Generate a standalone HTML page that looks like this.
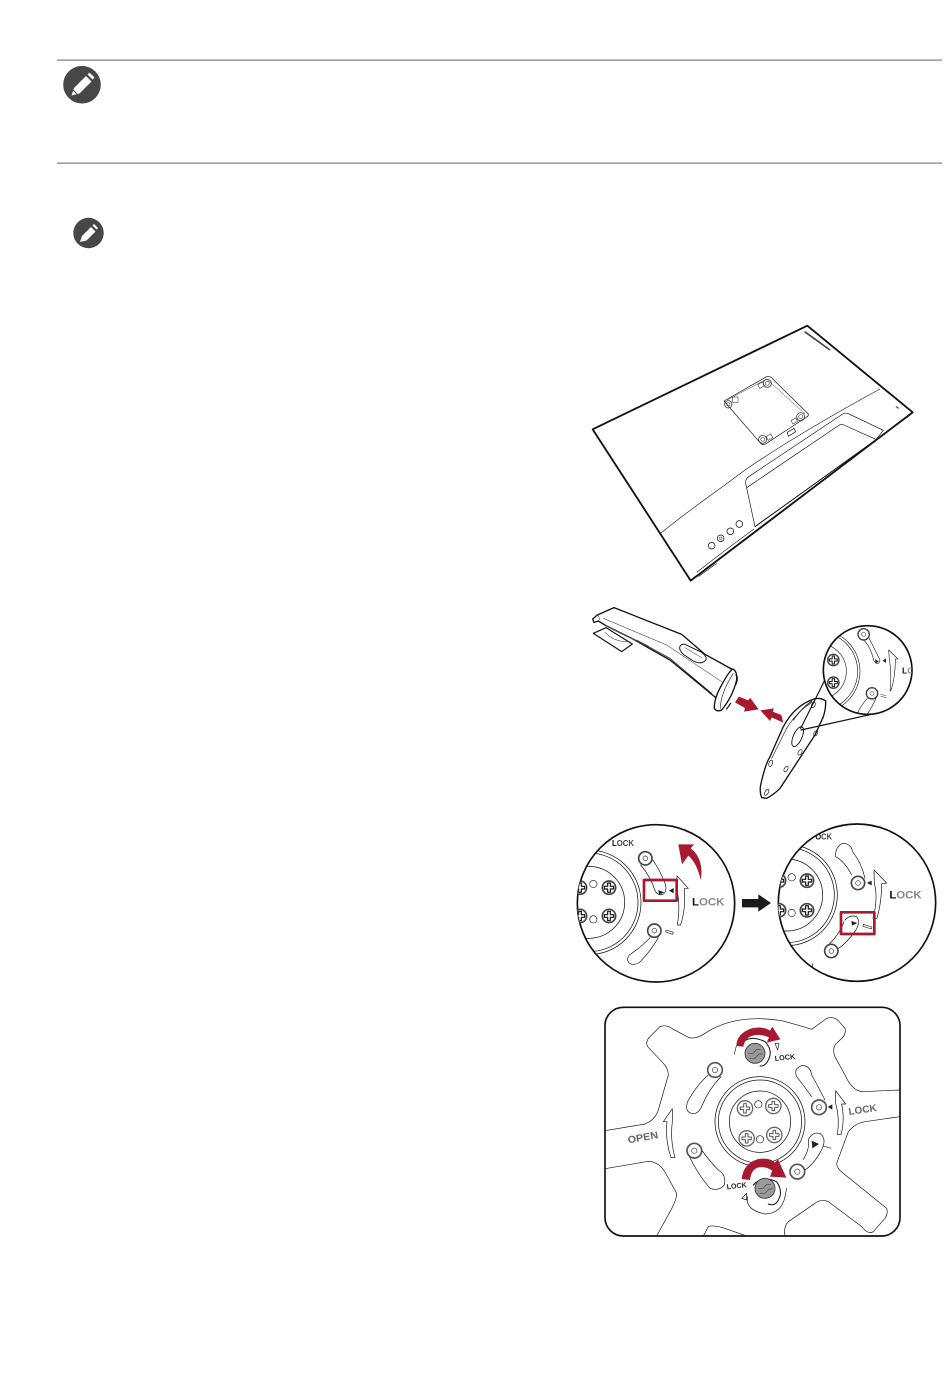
<!DOCTYPE html>
<html><head><meta charset="utf-8"><style>
html,body{margin:0;padding:0;background:#fff;width:950px;height:1379px;overflow:hidden}
svg{display:block}
text{font-family:"Liberation Sans",sans-serif;font-weight:bold}
</style></head><body>
<svg width="950" height="1379" viewBox="0 0 950 1379" xmlns="http://www.w3.org/2000/svg">
<defs>
<g id="sc"><circle r="20" fill="#fff" stroke="#444" stroke-width="5"/><path d="M-4,-14H4V-4H14V4H4V14H-4V4H-14V-4H-4Z" fill="#fff" stroke="#111" stroke-width="3.5"/></g>
<g id="pin"><circle r="20" fill="#fff" stroke="#444" stroke-width="5"/><circle r="7" fill="#fff" stroke="#333" stroke-width="2"/></g>
<g id="sc4"><circle r="23" fill="#fff" stroke="#666" stroke-width="4"/><path d="M-4,-14H4V-4H14V4H4V14H-4V4H-14V-4H-4Z" fill="#fff" stroke="#555" stroke-width="3"/></g>
<g id="pin4"><circle r="22" fill="#fff" stroke="#555" stroke-width="5"/><circle r="8" fill="#fff" stroke="#444" stroke-width="2"/></g>
<clipPath id="c2"><circle cx="893" cy="225" r="133"/></clipPath>
<clipPath id="c3a"><circle cx="258" cy="265" r="236"/></clipPath>
<clipPath id="c3b"><circle cx="861" cy="263" r="236"/></clipPath>
<clipPath id="c4"><rect x="30" y="22" width="885" height="686" rx="55"/></clipPath>
</defs>

<rect x="57" y="59.5" width="885" height="1.3" fill="#888"/>
<rect x="57" y="162.5" width="885" height="1.3" fill="#888"/>
<circle cx="82" cy="84.7" r="18.8" fill="#474747"/>
<path d="M71.5,95.5 L74,88 L86,76 L91.5,81.5 L79.5,93.5 Z" fill="#fff"/>
<path d="M87.5,74.5 L89.5,72.5 L94.5,77.5 L92.5,79.5Z" fill="#fff"/>
<path d="M73,90 L77,94" stroke="#474747" stroke-width="1" fill="none"/>
<circle cx="88.5" cy="233" r="15.2" fill="#474747"/>
<path d="M80,242 L82,236 L91,227 L95.5,231.5 L86.5,240.5 Z" fill="#fff"/>
<path d="M92.5,225.5 L94,224 L98,228 L96.5,229.5Z" fill="#fff"/>

<!-- Monitor -->
<g transform="translate(570,315) scale(.33333)" fill="none" stroke="#111" stroke-linejoin="round">
<path d="M712,32 L1028,292 L362,797 L68,343 Z" stroke-width="5.5" fill="#fff"/>
<path d="M704,50 L780,105" stroke-width="5" stroke="#444"/>
<path d="M272,655 C350,590 440,530 525,465 C620,400 750,320 930,222" stroke-width="1.8"/>
<path d="M555,635 L527,505 Q526,492 536,485 L818,297 Q826,292 835,296 L940,346 L917,375" stroke-width="2"/>
<path d="M530,518 L808,330 Q815,325 822,330 L917,373" stroke-width="2"/>
<path d="M917,375 L1020,300 M555,635 L917,375" stroke-width="3"/>
<path d="M380,772 C440,725 500,680 552,642 M385,785 L440,745" stroke-width="1.8"/>
<path d="M462,258 L590,185 Q598,182 604,188 L715,297 Q716,303 710,306 L585,388 Q578,391 572,385 Z" stroke-width="2" fill="#fff"/>
<path d="M472,255 L590,192 L705,297" stroke-width="1.2"/>
<circle cx="592" cy="205" r="12" stroke-width="2"/><circle cx="592" cy="205" r="6" stroke-width="1.5"/>
<circle cx="692" cy="305" r="12" stroke-width="2"/><circle cx="692" cy="305" r="6" stroke-width="1.5"/>
<circle cx="578" cy="373" r="12" stroke-width="2"/><circle cx="578" cy="373" r="6" stroke-width="1.5"/>
<circle cx="475" cy="268" r="11" stroke-width="2"/><circle cx="475" cy="268" r="5" stroke-width="1.5"/>
<rect x="565" y="204" width="16" height="13" transform="rotate(-30 573 210)" stroke-width="1.5"/>
<rect x="488" y="246" width="16" height="16" stroke-width="1.5"/>
<rect x="590" y="360" width="16" height="13" transform="rotate(-30 598 366)" stroke-width="1.5"/>
<rect x="665" y="312" width="16" height="12" transform="rotate(-30 673 318)" stroke-width="1.5"/>
<path d="M652,352 L672,340 L677,350 L655,364 Z" stroke-width="2"/>
<path d="M978,275 L986,280" stroke-width="4" stroke="#555"/>
<circle cx="425" cy="692" r="10" stroke-width="2.2"/>
<circle cx="452" cy="670" r="10" stroke-width="2.2"/><circle cx="452" cy="670" r="4" stroke-width="1.5"/>
<circle cx="481" cy="649" r="10" stroke-width="2.2"/>
<circle cx="508" cy="627" r="10" stroke-width="2.2"/>
</g>

<!-- Stand -->
<g transform="translate(570,595) scale(.33333)" fill="none" stroke="#111" stroke-linejoin="round" stroke-linecap="round">
<path d="M70,115 L108,98 L187,147 L155,170 Z" stroke-width="3.5" fill="#fff"/>
<path d="M105,112 Q130,140 170,140" stroke-width="1.5"/>
<path d="M68,72 L82,60 L132,38 L335,118 L405,178 L490,225 L440,310 L300,195 L185,130 L108,92 L85,78 L72,82 Z" stroke-width="4" fill="#fff"/>
<path d="M85,62 L90,75 M100,70 L290,150 L470,270" stroke-width="1.5"/>
<path d="M108,92 L235,155" stroke-width="4" stroke="#444" stroke-dasharray="4 2"/>
<path d="M200,135 L300,190 L425,295" stroke-width="2"/>
<path d="M345,148 L395,172 Q418,190 402,200 Q388,208 370,198 L340,178 Q322,160 333,150 Q338,146 345,148 Z" stroke-width="2.8" fill="#fff"/>
<path d="M345,158 L395,188" stroke-width="1.4"/>
<path d="M488,222 Q502,228 500,255 Q488,305 455,345 Q440,352 433,340 Q432,310 455,270 Q475,232 488,222 Z" stroke-width="4" fill="#fff"/>
<path d="M490,235 Q470,265 458,300 Q450,325 452,340" stroke-width="1.8"/>
<path d="M498,240 Q506,248 498,268 M470,342 L482,325" stroke-width="3.5"/>
<path d="M495,322 L507,305 L535,316 L540,308 L566,343 L522,350 L525,339 Z" fill="#a6192e" stroke="none"/>
<path d="M640,383 L634,360 L608,350 L612,340 L571,346 L600,378 L605,367 Z" fill="#a6192e" stroke="none"/>
<path d="M735,311 Q755,308 767,318 Q768,340 760,365 L735,420 L630,580 Q610,600 590,610 L575,608 Q568,590 572,570 Q585,510 600,485 L640,395 Q675,330 735,311 Z" stroke-width="4" fill="#fff"/>
<path d="M730,320 Q680,350 650,400 L605,490" stroke-width="1.8"/>
<path d="M725,318 Q690,345 670,375" stroke-width="3.5" stroke="#444"/>
<ellipse cx="683" cy="425" rx="13" ry="32" transform="rotate(24 683 425)" stroke-width="2.8" fill="#fff"/>
<ellipse cx="730" cy="330" rx="5" ry="9" transform="rotate(30 730 330)" stroke-width="2"/>
<ellipse cx="737" cy="415" rx="5" ry="9" transform="rotate(30 737 415)" stroke-width="2"/>
<ellipse cx="690" cy="472" rx="5" ry="9" transform="rotate(30 690 472)" stroke-width="2"/>
<ellipse cx="648" cy="522" rx="5" ry="9" transform="rotate(30 648 522)" stroke-width="2"/>
<ellipse cx="602" cy="505" rx="5" ry="10" transform="rotate(20 602 505)" stroke-width="2"/>
<ellipse cx="590" cy="592" rx="5" ry="10" transform="rotate(30 590 592)" stroke-width="2"/>
<path d="M692,400 L772,240 M693,405 L905,358" stroke-width="3.5"/>
<circle cx="893" cy="225" r="133" stroke-width="5" fill="#fff"/>
<g clip-path="url(#c2)">
<circle cx="745" cy="229" r="125" stroke-width="1.8"/>
<circle cx="745" cy="229" r="118" stroke-width="1.8"/>
<circle cx="745" cy="229" r="84" stroke-width="1.8"/>
<use href="#sc" transform="translate(790,195) scale(.85)"/>
<use href="#sc" transform="translate(790,263) scale(.85)"/>
<path d="M880,135 Q900,150 912,198 Q925,215 930,195 L895,125" stroke-width="1.8" fill="#fff"/>
<use href="#pin" transform="translate(881,118) scale(.85)"/>
<use href="#pin" transform="translate(906,295) scale(.85)"/>
<path d="M892,310 Q870,335 860,360 M920,305 Q905,340 890,360" stroke-width="1.8"/>
<path d="M916,192 L926,200 L916,206Z M948,190 V204 L938,197Z" fill="#222" stroke="none"/>
<path d="M932,298 L948,302 M932,304 L948,308" stroke-width="1.4"/>
<path d="M956,165 L984,192 L976,192 Q976,250 962,288 L960,288 Q966,240 958,192 Z" stroke-width="1.8" fill="#fff"/>
<text x="996" y="235" font-size="26" fill="#111" stroke="none">L<tspan fill="#888">O</tspan></text>
</g>
</g>

<!-- Two lock circles -->
<g transform="translate(570,815) scale(.33333)" fill="none" stroke="#111" stroke-linejoin="round" stroke-linecap="round">
<circle cx="258" cy="265" r="236" stroke-width="5" fill="#fff"/>
<g clip-path="url(#c3a)">
<circle cx="56" cy="262" r="157" stroke-width="2.2"/>
<circle cx="56" cy="262" r="148" stroke-width="2.2"/>
<circle cx="56" cy="262" r="108" stroke-width="2.2"/>
<use href="#sc" transform="translate(117,218)"/>
<use href="#sc" transform="translate(117,303)"/>
<use href="#sc" transform="translate(30,218)"/>
<use href="#sc" transform="translate(30,303)"/>
<circle cx="70" cy="207" r="11" stroke-width="1.8"/>
<circle cx="70" cy="313" r="11" stroke-width="1.8"/>
<path d="M212,150 Q245,190 255,228 Q268,246 282,236 Q292,224 285,205 Q270,165 245,130" stroke-width="2" fill="#fff"/>
<use href="#pin" transform="translate(226,130)"/>
<path d="M240,368 Q215,395 178,420 Q165,440 185,448 Q205,450 215,435 Q240,410 265,368" stroke-width="2" fill="#fff"/>
<use href="#pin" transform="translate(253,347)"/>
<path d="M265,225 L283,233 L267,239Z M311,219 V235 L297,227Z" fill="#222" stroke="none"/>
<path d="M288,345 L310,352 L308,358 L287,351Z" stroke-width="1.8"/>
<path d="M321,183 L355,220 L343,221 Q348,280 332,330 L322,330 Q332,270 320,222 Z" stroke-width="2" fill="#fff"/>
<text x="366" y="272" font-size="32" fill="#111" stroke="none" textLength="97" lengthAdjust="spacingAndGlyphs">L<tspan fill="#888">OCK</tspan></text>
<text x="126" y="93" font-size="25" fill="#111" stroke="none" textLength="66" lengthAdjust="spacingAndGlyphs">L<tspan fill="#444">OCK</tspan></text>
</g>
<rect x="222" y="195" width="98" height="62" stroke="#a6192e" stroke-width="8"/>
<path d="M392,195 C385,160 370,135 355,122 L336,148 L325,88 L372,88 L362,100 C390,120 400,160 392,195 Z" fill="#a6192e" stroke="none"/>
<path d="M516,252 H565 V238 L603,264 L565,290 V277 H516 Z" fill="#1a1a1a" stroke="none"/>
<circle cx="861" cy="263" r="236" stroke-width="5" fill="#fff"/>
<g clip-path="url(#c3b)">
<circle cx="650" cy="240" r="152" stroke-width="2.2"/>
<circle cx="650" cy="240" r="143" stroke-width="2.2"/>
<circle cx="650" cy="240" r="108" stroke-width="2.2"/>
<use href="#sc" transform="translate(711,197)"/>
<use href="#sc" transform="translate(711,286)"/>
<use href="#sc" transform="translate(627,197)"/>
<use href="#sc" transform="translate(627,286)"/>
<circle cx="665" cy="187" r="11" stroke-width="1.8"/>
<circle cx="665" cy="294" r="11" stroke-width="1.8"/>
<path d="M845,180 Q825,140 797,125 Q795,95 818,85 Q842,85 848,110 Q875,145 885,190" stroke-width="2"/>
<use href="#pin" transform="translate(864,204)"/>
<path d="M825,315 Q840,298 860,305 Q872,320 858,345 Q830,385 803,402 M822,320 Q808,360 770,395" stroke-width="2"/>
<use href="#pin" transform="translate(784,408)"/>
<path d="M844,318 L862,324 L846,332Z M905,197 V211 L891,204Z" fill="#222" stroke="none"/>
<path d="M880,328 L906,336 L904,342 L879,334Z" stroke-width="1.8"/>
<path d="M912,165 L950,204 L935,206 Q935,260 921,310 L909,310 Q925,250 913,205 Z" stroke-width="2" fill="#fff"/>
<text x="958" y="251" font-size="32" fill="#111" stroke="none" textLength="97" lengthAdjust="spacingAndGlyphs">L<tspan fill="#888">OCK</tspan></text>
<text x="736" y="73" font-size="25" fill="#444" stroke="none" textLength="50" lengthAdjust="spacingAndGlyphs"><tspan fill="#111">O</tspan>CK</text>
<path d="M727,445 V458" stroke-width="2"/>
</g>
<rect x="813" y="292" width="100" height="65" stroke="#a6192e" stroke-width="8"/>
</g>

<!-- Bottom panel -->
<g transform="translate(595,1000) scale(.33333)" fill="none" stroke="#111" stroke-linejoin="round" stroke-linecap="round">
<rect x="30" y="22" width="885" height="686" rx="55" stroke-width="5" fill="#fff"/>
<g clip-path="url(#c4)">
<path d="M30,392 L150,372 Q180,360 190,330 L220,225 Q220,205 205,190 L158,140 Q150,125 165,110 L195,80 Q215,72 235,88 L280,112 Q300,120 330,100 Q420,40 560,62 Q610,75 650,88 L695,55 Q715,48 730,62 L750,85 Q755,105 735,120 L720,135 Q712,150 720,170 L750,225 Q770,270 800,275 L915,270" stroke-width="2"/>
<path d="M30,506 L160,484 Q195,485 215,525 L245,580 Q245,600 225,635 L185,708" stroke-width="2"/>
<path d="M915,350 L810,365 Q780,370 760,395 L725,490 Q725,505 745,520 L875,625 Q880,640 870,655 L835,695 Q820,705 800,680 L700,605 Q680,595 660,610 L580,665 Q565,680 570,708" stroke-width="2"/>
<path d="M325,708 L340,680 Q350,675 380,682 L455,708" stroke-width="2"/>
<circle cx="495" cy="365" r="135" stroke-width="2.2"/>
<circle cx="495" cy="365" r="125" stroke-width="2.2"/>
<circle cx="495" cy="365" r="92" stroke-width="2.2"/>
<use href="#sc4" transform="translate(450,325)"/>
<use href="#sc4" transform="translate(535,318)"/>
<use href="#sc4" transform="translate(455,415)"/>
<use href="#sc4" transform="translate(538,405)"/>
<circle cx="490" cy="313" r="11" stroke-width="1.8"/>
<circle cx="495" cy="418" r="11" stroke-width="1.8"/>
<path d="M340,225 Q305,255 278,305 Q268,335 290,340 Q310,345 322,315 Q340,270 378,230" stroke-width="2" fill="#fff"/>
<use href="#pin4" transform="translate(360,210)"/>
<path d="M283,470 Q310,525 345,565 Q370,575 388,555 Q395,525 370,510 Q345,485 320,450" stroke-width="2" fill="#fff"/>
<use href="#pin4" transform="translate(298,452)"/>
<path d="M650,290 Q625,255 605,230 Q595,205 620,197 Q645,195 650,225 Q670,260 690,300" stroke-width="2" fill="#fff"/>
<use href="#pin4" transform="translate(672,322)"/>
<path d="M625,478 Q645,445 640,420 Q650,395 675,400 Q695,415 682,445 Q660,490 630,510" stroke-width="2" fill="#fff"/>
<use href="#pin4" transform="translate(607,515)"/>
<path d="M650,422 L672,432 L652,445Z M712,313 V329 L698,321Z" fill="#222" stroke="none"/>
<path d="M685,438 L708,445" stroke-width="1.8"/>
<path d="M722,272 L752,312 L740,312 Q750,360 738,404 L727,404 Q735,355 722,310 Z" stroke-width="2" fill="#fff"/>
<path d="M232,326 L205,365 L216,365 Q210,420 228,473 L240,473 Q225,420 232,365 Z" stroke-width="2" fill="#fff"/>
<text x="762" y="345" font-size="30" fill="#666" stroke="none" textLength="85" lengthAdjust="spacingAndGlyphs" transform="rotate(-8 762 345)">LOCK</text>
<text x="100" y="430" font-size="30" fill="#666" stroke="none" textLength="92" lengthAdjust="spacingAndGlyphs" transform="rotate(-10 100 430)">OPEN</text>
<text x="540" y="183" font-size="22" fill="#222" stroke="none" textLength="62" lengthAdjust="spacingAndGlyphs" transform="rotate(-6 540 183)">LOCK</text>
<text x="396" y="568" font-size="22" fill="#222" stroke="none" textLength="60" lengthAdjust="spacingAndGlyphs" transform="rotate(-6 396 568)">LOCK</text>
<path d="M418,162 L424,138 M548,150 L540,130 L552,130Z" stroke-width="1.8"/>
<path d="M445,125 Q470,105 510,125 Q535,150 520,180 Q510,200 495,198" stroke-width="3" fill="#fff"/>
<circle cx="480" cy="160" r="30" fill="#9a9a9a" stroke="#333" stroke-width="2.5"/>
<path d="M460,160 H475 L485,148 L497,148 M465,175 L480,175 L492,162 L502,162" stroke="#444" stroke-width="2"/>
<path d="M458,590 Q450,630 510,642 Q560,640 570,590 L575,565 M440,595 L455,580 L455,600Z" stroke-width="2"/>
<path d="M475,555 Q500,525 545,545 Q565,575 550,600 Q540,620 520,612" stroke-width="3" fill="#fff"/>
<circle cx="510" cy="565" r="30" fill="#9a9a9a" stroke="#333" stroke-width="2.5"/>
<path d="M490,565 H505 L515,553 L527,553 M495,580 L510,580 L522,567 L532,567" stroke="#444" stroke-width="2"/>
<path d="M424,138 Q425,100 470,85 Q505,78 525,92 L532,80 L556,118 L515,128 L522,112 Q495,100 470,108 Q450,115 445,140 Z" fill="#a6192e" stroke="none"/>
<path d="M440,537 Q445,490 490,477 Q525,472 540,488 L549,478 L574,533 L525,530 L532,512 Q510,497 488,503 Q468,510 465,540 Z" fill="#a6192e" stroke="none"/>
</g>
</g>
</svg>
</body></html>
